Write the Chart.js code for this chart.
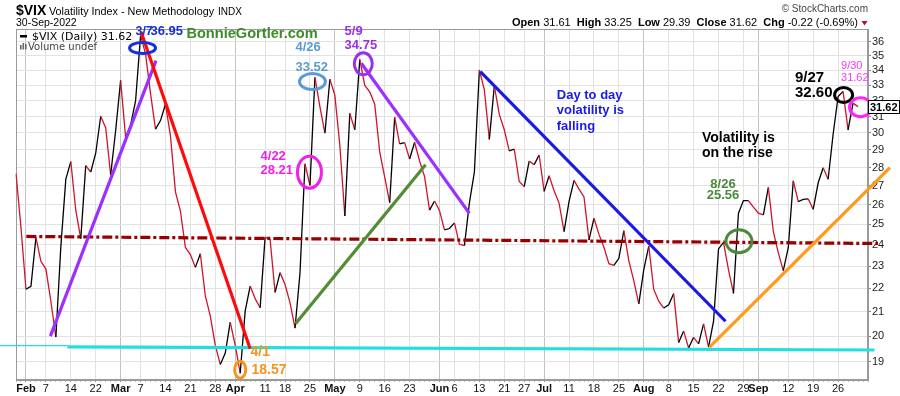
<!DOCTYPE html>
<html><head><meta charset="utf-8">
<style>html,body{margin:0;padding:0;background:#fff}#wrap{position:relative;width:900px;height:396px}</style>
<script src="https://cdn.jsdelivr.net/npm/chart.js@4.4.1/dist/chart.umd.min.js"></script>
</head><body><div id="wrap"><canvas id="c" width="900" height="396"></canvas></div>
<script>
// ---- data ----
const dates = ["2022-01-28","2022-01-31","2022-02-01","2022-02-02","2022-02-03","2022-02-04","2022-02-07","2022-02-08","2022-02-09","2022-02-10","2022-02-11","2022-02-14","2022-02-15","2022-02-16","2022-02-17","2022-02-18","2022-02-22","2022-02-23","2022-02-24","2022-02-25","2022-02-28","2022-03-01","2022-03-02","2022-03-03","2022-03-04","2022-03-07","2022-03-08","2022-03-09","2022-03-10","2022-03-11","2022-03-14","2022-03-15","2022-03-16","2022-03-17","2022-03-18","2022-03-21","2022-03-22","2022-03-23","2022-03-24","2022-03-25","2022-03-28","2022-03-29","2022-03-30","2022-03-31","2022-04-01","2022-04-04","2022-04-05","2022-04-06","2022-04-07","2022-04-08","2022-04-11","2022-04-12","2022-04-13","2022-04-14","2022-04-18","2022-04-19","2022-04-20","2022-04-21","2022-04-22","2022-04-25","2022-04-26","2022-04-27","2022-04-28","2022-04-29","2022-05-02","2022-05-03","2022-05-04","2022-05-05","2022-05-06","2022-05-09","2022-05-10","2022-05-11","2022-05-12","2022-05-13","2022-05-16","2022-05-17","2022-05-18","2022-05-19","2022-05-20","2022-05-23","2022-05-24","2022-05-25","2022-05-26","2022-05-27","2022-05-31","2022-06-01","2022-06-02","2022-06-03","2022-06-06","2022-06-07","2022-06-08","2022-06-09","2022-06-10","2022-06-13","2022-06-14","2022-06-15","2022-06-16","2022-06-17","2022-06-21","2022-06-22","2022-06-23","2022-06-24","2022-06-27","2022-06-28","2022-06-29","2022-06-30","2022-07-01","2022-07-05","2022-07-06","2022-07-07","2022-07-08","2022-07-11","2022-07-12","2022-07-13","2022-07-14","2022-07-15","2022-07-18","2022-07-19","2022-07-20","2022-07-21","2022-07-22","2022-07-25","2022-07-26","2022-07-27","2022-07-28","2022-07-29","2022-08-01","2022-08-02","2022-08-03","2022-08-04","2022-08-05","2022-08-08","2022-08-09","2022-08-10","2022-08-11","2022-08-12","2022-08-15","2022-08-16","2022-08-17","2022-08-18","2022-08-19","2022-08-22","2022-08-23","2022-08-24","2022-08-25","2022-08-26","2022-08-29","2022-08-30","2022-08-31","2022-09-01","2022-09-02","2022-09-06","2022-09-07","2022-09-08","2022-09-09","2022-09-12","2022-09-13","2022-09-14","2022-09-15","2022-09-16","2022-09-19","2022-09-20","2022-09-21","2022-09-22","2022-09-23","2022-09-26","2022-09-27","2022-09-28","2022-09-29","2022-09-30"];
const padDates = ["2022-10-03","2022-10-04"];
const vixClose = [27.66,24.83,21.96,22.09,24.35,23.22,22.86,21.44,19.96,23.91,27.36,28.33,25.70,24.29,28.11,27.75,28.81,31.02,30.32,27.59,30.15,33.32,29.74,30.48,31.98,36.45,35.13,32.45,30.23,30.75,31.77,29.83,26.67,25.67,23.87,23.53,22.94,23.57,21.67,20.81,19.63,18.90,19.33,20.56,19.63,18.57,21.03,22.10,21.55,21.16,24.37,24.26,21.82,22.70,22.17,21.37,20.32,22.68,28.21,27.02,33.52,31.60,29.99,33.40,32.34,29.25,25.42,31.20,30.19,34.75,32.99,32.56,31.77,28.87,27.47,26.10,30.96,29.35,29.43,28.48,29.45,28.37,27.50,25.72,26.19,25.69,24.72,24.79,25.07,24.02,23.96,26.09,27.75,34.02,32.69,29.62,32.95,31.13,30.19,28.95,29.05,27.23,26.95,28.36,28.16,28.71,26.70,27.54,26.73,26.08,24.64,26.17,27.29,26.82,26.40,24.23,25.30,24.50,23.88,23.11,23.03,23.36,24.69,23.24,22.33,21.33,22.84,23.93,21.95,21.44,21.15,21.29,21.77,19.74,20.20,19.53,19.95,19.69,20.49,19.56,20.60,23.80,24.11,22.82,21.78,25.56,26.21,26.21,25.87,25.56,25.47,26.91,24.64,23.61,22.79,23.87,27.27,26.16,26.27,26.30,25.76,27.16,27.99,27.35,29.92,32.26,32.60,30.18,31.84,31.62];
const xTickLabels = {"2022-02-01":"Feb","2022-02-07":"7","2022-02-14":"14","2022-02-22":"22","2022-03-01":"Mar","2022-03-07":"7","2022-03-14":"14","2022-03-21":"21","2022-03-28":"28","2022-04-01":"Apr","2022-04-11":"11","2022-04-18":"18","2022-04-25":"25","2022-05-02":"May","2022-05-09":"9","2022-05-16":"16","2022-05-23":"23","2022-06-01":"Jun","2022-06-06":"6","2022-06-13":"13","2022-06-21":"21","2022-06-27":"27","2022-07-01":"Jul","2022-07-11":"11","2022-07-18":"18","2022-07-25":"25","2022-08-01":"Aug","2022-08-08":"8","2022-08-15":"15","2022-08-22":"22","2022-08-29":"29","2022-09-01":"Sep","2022-09-12":"12","2022-09-19":"19","2022-09-26":"26"};
const monthLabels = ["Feb","Mar","Apr","May","Jun","Jul","Aug","Sep"];
const yTickValues = [19,20,21,22,23,24,25,26,27,28,29,30,31,32,33,34,35,36];
const yMin = 18.32, yMax = 36.92;

// annotations, in data units: [index, value]
const trendLines = [
  {from:[-3.4,19.62], to:[10.3,19.62], color:'#22dede', width:1.2},
  {from:[10.3,19.57], to:[172.3,19.45], color:'#22dede', width:3.2},
  {from:[2.07,24.40], to:[173,24.06], color:'#990000', width:3.2, dash:[10,3,3,3]},
  {from:[6.9,20.0], to:[28.1,34.66], color:'#9b30ff', width:3.2},
  {from:[25.1,36.72], to:[47.0,19.5], color:'#ff0a0a', width:3.2},
  {from:[56.1,20.5], to:[82.2,28.16], color:'#548b35', width:3.2},
  {from:[69.3,34.48], to:[91.0,25.55], color:'#9b30ff', width:3.2},
  {from:[93.2,33.91], to:[142.4,20.6], color:'#1a1ae6', width:3.2},
  {from:[139.2,19.56], to:[175.4,28.0], color:'#ff9a1a', width:3.2}
];
const ellipses = [
  {at:[25.4,35.55], rx:13, ry:5.5, color:'#1530e0'},
  {at:[59.5,33.24], rx:13, ry:8, color:'#5b9bd5'},
  {at:[58.9,27.74], rx:12, ry:16, color:'#f020e8'},
  {at:[69.7,34.44], rx:9, ry:11, color:'#9b30e8'},
  {at:[45.0,18.70], rx:5.5, ry:8.5, color:'#f7941d'},
  {at:[145.1,24.17], rx:13, ry:11.5, color:'#4a8a3a'},
  {at:[166.1,32.37], rx:9, ry:7.5, color:'#000000'},
  {at:[169.5,31.58], rx:11, ry:9.5, color:'#ff22ff'}
];
const notes = [
  {text:'3/7', at:[23.97,36.48], color:'#1530e0', font:'bold 12.5px'},
  {text:'36.95', at:[26.98,36.48], color:'#1530e0', font:'bold 13px'},
  {text:'BonnieGortler.com', at:[34.2,36.27], color:'#3c8c28', font:'bold 14.6px'},
  {text:'4/26', at:[56.1,35.34], color:'#5b9bd5', font:'bold 13px'},
  {text:'33.52', at:[56.1,33.96], color:'#5b9bd5', font:'bold 13px'},
  {text:'5/9', at:[65.95,36.48], color:'#9b30e8', font:'bold 13px'},
  {text:'34.75', at:[65.95,35.48], color:'#9b30e8', font:'bold 13px'},
  {text:'4/22', at:[49.08,28.44], color:'#f020e8', font:'bold 13px'},
  {text:'28.21', at:[49.08,27.66], color:'#f020e8', font:'bold 13px'},
  {text:'4/1', at:[47.07,19.21], color:'#f7941d', font:'bold 14px'},
  {text:'18.57', at:[47.27,18.53], color:'#f7941d', font:'bold 14px'},
  {text:'Day to day', at:[108.54,32.12], color:'#1a1ae6', font:'bold 13px'},
  {text:'volatility is', at:[108.54,31.14], color:'#1a1ae6', font:'bold 13px'},
  {text:'falling', at:[108.54,30.19], color:'#1a1ae6', font:'bold 13px'},
  {text:'Volatility is', at:[137.67,29.48], color:'#000000', font:'bold 14px'},
  {text:'on the rise', at:[137.67,28.61], color:'#000000', font:'bold 14px'},
  {text:'8/26', at:[141.89,26.90], color:'#4a8a3a', font:'bold 13px', align:'center'},
  {text:'25.56', at:[141.89,26.27], color:'#4a8a3a', font:'bold 13px', align:'center'},
  {text:'9/27', at:[156.35,33.22], color:'#000000', font:'bold 15px'},
  {text:'32.60', at:[156.35,32.25], color:'#000000', font:'bold 15px'},
  {text:'9/30', at:[165.59,34.09], color:'#ff33ff', font:'11px'},
  {text:'31.62', at:[165.59,33.29], color:'#ff33ff', font:'11px'}
];
const lastClose = 31.62;

const FONT = '"Liberation Sans", Arial, sans-serif';
const allDates = dates.concat(padDates);
const RED = '#d0142c';

const annot = {
  id:'annot',
  beforeDraw(chart){
    const c = chart.ctx; c.save(); c.fillStyle='#fff'; c.fillRect(0,0,chart.width,chart.height); c.restore();
  },
  beforeDatasetsDraw(chart){
    const c = chart.ctx, a = chart.chartArea;
    c.save(); c.strokeStyle='#9a9a9a'; c.lineWidth=1;
    c.strokeRect(Math.round(a.left)+0.5, Math.round(a.top)+0.5, Math.round(a.right-a.left)-1, Math.round(a.bottom-a.top)-1);
    c.restore();
  },
  afterDraw(chart){
    const c = chart.ctx, xs = chart.scales.x, ys = chart.scales.y;
    const px = p => [xs.getPixelForValue(p[0]), ys.getPixelForValue(p[1])];
    c.save();
    trendLines.forEach(t => {
      const p0 = px(t.from), p1 = px(t.to);
      c.beginPath(); c.strokeStyle=t.color; c.lineWidth=t.width; c.setLineDash(t.dash||[]);
      c.moveTo(p0[0],p0[1]); c.lineTo(p1[0],p1[1]); c.stroke();
    });
    c.setLineDash([]);
    ellipses.forEach(e => {
      const p = px(e.at);
      c.beginPath(); c.strokeStyle=e.color; c.lineWidth=3;
      c.ellipse(p[0],p[1],e.rx,e.ry,0,0,Math.PI*2); c.stroke();
    });
    notes.forEach(n => {
      const p = px(n.at);
      c.font = n.font + ' ' + FONT; c.fillStyle = n.color; c.textAlign = n.align||'left'; c.textBaseline='alphabetic';
      c.fillText(n.text, p[0], p[1]);
    });
    c.textAlign='left';
    // legend inside plot
    c.fillStyle='#000'; c.fillRect(20,35,7,2.5);
    c.font='11px "DejaVu Sans", Verdana, sans-serif'; c.fillStyle='#000';
    c.fillText('$VIX (Daily) ' + lastClose.toFixed(2), 32, 39.5);
    c.fillStyle='#666'; c.fillRect(20,45,1.6,4.5); c.fillRect(22.5,43,1.6,6.5); c.fillRect(25,44,1.6,5.5);
    c.font='10px "DejaVu Sans", Verdana, sans-serif'; c.fillStyle='#444';
    c.fillText('Volume undef', 28, 49.5);
    // header
    c.fillStyle='#000';
    c.font='bold 14px '+FONT; c.fillText('$VIX', 16, 14.5);
    c.font='10.8px '+FONT; c.fillText('Volatility Index - New Methodology', 49, 14.5);
    c.font='10px '+FONT; c.fillText('INDX', 218, 14.5);
    c.font='10.5px '+FONT; c.fillText('30-Sep-2022', 16, 26);
    c.textAlign='right'; c.fillStyle='#444'; c.font='10px '+FONT;
    c.fillText('\u00A9 StockCharts.com', 868, 12);
    const parts = [['Open',1],[' 31.61  ',0],['High',1],[' 33.25  ',0],['Low',1],[' 29.39  ',0],['Close',1],[' 31.62  ',0],['Chg',1],[' -0.22 (-0.69%)',0]];
    let x = 858;
    for (let i = parts.length-1; i >= 0; i--) {
      c.font = (parts[i][1] ? 'bold ' : '') + '11px ' + FONT;
      c.fillStyle = '#000'; c.fillText(parts[i][0], x, 26);
      x -= c.measureText(parts[i][0]).width;
    }
    c.fillStyle='#b01030'; c.beginPath(); c.moveTo(861.5,21); c.lineTo(867.5,21); c.lineTo(864.5,25.5); c.closePath(); c.fill();
    // last price box
    const yl = ys.getPixelForValue(lastClose);
    c.textAlign='left';
    c.fillStyle='#fff'; c.fillRect(868,yl-6.5,31,13);
    c.strokeStyle='#000'; c.lineWidth=1; c.strokeRect(868.5,Math.round(yl-6.5)+0.5,31,13);
    c.fillStyle='#000'; c.font='bold 11px '+FONT; c.fillText(lastClose.toFixed(2), 870, yl+4);
    c.restore();
  }
};

const isLabeled = i => xTickLabels[allDates[i]] !== undefined;
const isMonth = i => monthLabels.includes(xTickLabels[allDates[i]]);

new Chart(document.getElementById('c'), {
  type:'line',
  data:{
    labels: allDates,
    datasets:[{
      data: vixClose,
      borderColor:'#000', borderWidth:1.3, pointRadius:0, tension:0, fill:false,
      segment:{ borderColor: ctx => ctx.p1.parsed.y < ctx.p0.parsed.y ? RED : '#000' }
    }]
  },
  options:{
    responsive:false, animation:false, devicePixelRatio:1,
    layout:{ padding:{ left:16, top:29, right:0, bottom:0 } },
    plugins:{ legend:{display:false}, tooltip:{enabled:false} },
    scales:{
      x:{
        type:'category', offset:false,
        afterFit: s => { s.height = 16; },
        grid:{
          color: ctx => isMonth(ctx.index) ? '#c2c2c2' : (isLabeled(ctx.index) ? '#e2e2e2' : 'rgba(0,0,0,0)'),
          tickColor: ctx => isLabeled(ctx.index) ? '#888' : '#bbb',
          tickLength:2, lineWidth:1, drawOnChartArea:true
        },
        border:{ display:true, color:'#9a9a9a' },
        ticks:{
          autoSkip:false, maxRotation:0, minRotation:0, padding:0, color:'#111',
          font: ctx => ({ family: FONT, size: 11, weight: isMonth(ctx.index) ? 'bold' : 'normal' }),
          callback: function(v, i){ const l = xTickLabels[allDates[i]]; return l === undefined ? '' : l; }
        }
      },
      y:{
        type:'logarithmic', position:'right', min:yMin, max:yMax, bounds:'data',
        afterFit: s => { s.width = 32; },
        afterBuildTicks: s => { s.ticks = yTickValues.map(v => ({ value: v })); },
        grid:{ color:'#e2e2e2', tickLength:3, tickColor:'#888' },
        border:{ display:true, color:'#9a9a9a' },
        ticks:{ padding:1, color:'#222', font:{ family: FONT, size: 11 }, callback: v => String(v) }
      }
    }
  },
  plugins:[annot]
});
</script>
</body></html>
